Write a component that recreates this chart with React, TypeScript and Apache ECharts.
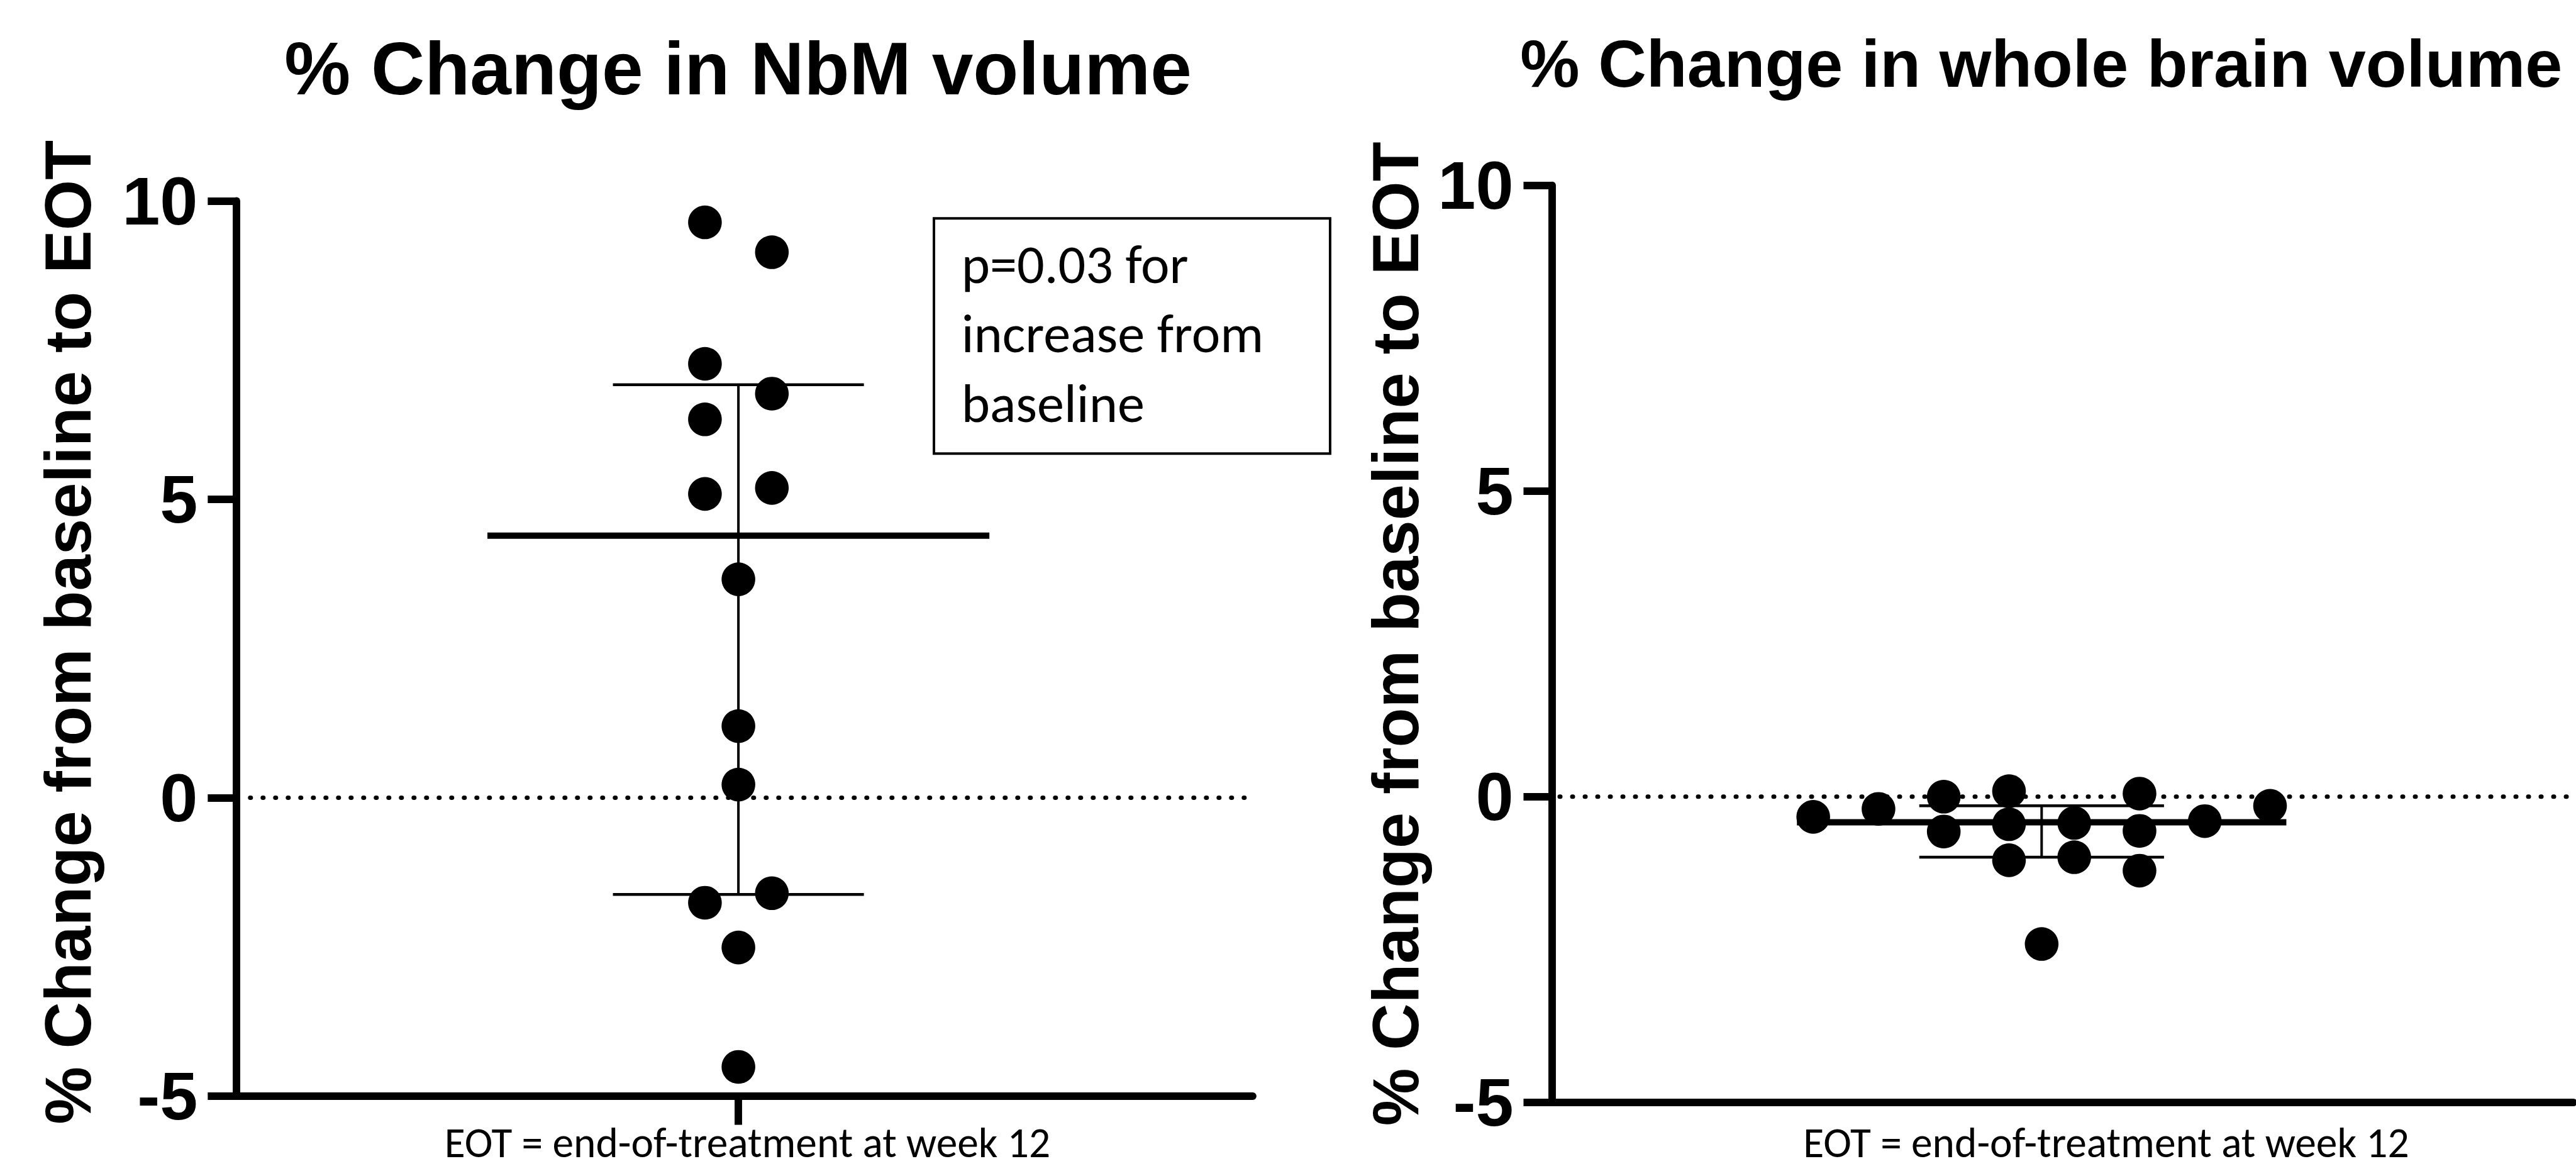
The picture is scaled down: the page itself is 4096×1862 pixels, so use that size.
import React, { useEffect, useRef } from 'react';
import * as echarts from 'echarts';

// ---------- data ----------
const panelTitles = ['% Change in NbM volume', '% Change in whole brain volume'];
const yAxisName = '% Change from baseline to EOT';
const xNote = 'EOT = end-of-treatment at week 12';
const pNoteLines = ['p=0.03 for', 'increase from', 'baseline'];
const yTickValues = [-5, 0, 5, 10];

// NbM volume: values and their swarm column offsets
const nbmValues = [9.64, 9.14, 7.27, 6.77, 6.34, 5.09, 5.19, 3.66, 1.2, 0.22, -1.76, -1.6, -2.51, -4.51];
const nbmColumns = [-1, 1, -1, 1, -1, -1, 1, 0, 0, 0, -1, 1, 0, 0];

// Whole brain volume: values and their swarm column offsets
const wbValues = [-0.33, -0.2, 0.0, -0.57, 0.09, -0.45, -1.04, -2.41, -0.43, -0.99, 0.05, -0.56, -1.21, -0.4, -0.15];
const wbColumns = [-7, -5, -3, -3, -1, -1, -1, 0, 1, 1, 3, 3, 3, 5, 7];

// summary lines: median with interquartile range
const medians = [4.39, -0.42];
const lowerQuartiles = [-1.62, -0.99];
const upperQuartiles = [6.92, -0.15];

// ---------- layout ----------
const S = 0.992;
const W = 4096;
const H = 1862;
const FONT_BOLD = '"Liberation Sans", Arial, Helvetica, sans-serif';
const FONT_NOTE = 'Carlito, Lato, "Open Sans", sans-serif';

const grids = [
  { left: 379 * S, top: 322 * S, width: 1629 * S, height: 1435 * S },
  { left: 2488 * S, top: 297 * S, width: 1637 * S, height: 1470 * S },
];
const xRanges = [
  [-15, 15.37],
  [-15, 16.3],
];
const zeroStart = [-14.59, -14.77];

function panelSeries(i: number, values: number[], cols: number[]) {
  const base = { xAxisIndex: i, yAxisIndex: i, silent: true, animation: false };
  const black = '#000';
  const lineSeries = (data: number[][], width: number, z: number, extra: any = {}) => ({
    ...base,
    type: 'line',
    data,
    symbol: 'none',
    z,
    lineStyle: { color: black, width, opacity: 1, ...extra },
  });
  return [
    lineSeries([[zeroStart[i], 0], [xRanges[i][1], 0]], 7, 1, { type: [1, 19], cap: 'round' }),
    lineSeries([[-7.5, medians[i]], [7.5, medians[i]]], 10, 2),
    lineSeries([[-3.75, upperQuartiles[i]], [3.75, upperQuartiles[i]]], 4.5, 2),
    lineSeries([[-3.75, lowerQuartiles[i]], [3.75, lowerQuartiles[i]]], 4.5, 2),
    lineSeries([[0, lowerQuartiles[i]], [0, upperQuartiles[i]]], 4, 2),
    {
      ...base,
      type: 'scatter',
      z: 3,
      symbol: 'circle',
      symbolSize: 54 * S,
      itemStyle: { color: black, opacity: 1 },
      data: values.map((v, k) => [cols[k], v]),
    },
  ];
}

function buildOption() {
  const axisLineStyle = { color: '#000', width: 12 * S };
  const xAxes = [0, 1].map((i) => ({
    type: 'value',
    gridIndex: i,
    min: xRanges[i][0],
    max: xRanges[i][1],
    axisLine: { show: true, onZero: false, lineStyle: axisLineStyle },
    axisTick: i === 0
      ? { show: true, customValues: [0], length: 46 * S, lineStyle: { color: '#000', width: 12 * S } }
      : { show: false },
    axisLabel: { show: false },
    splitLine: { show: false },
  }));
  const yAxes = [0, 1].map((i) => ({
    type: 'value',
    gridIndex: i,
    min: yTickValues[0],
    max: yTickValues[yTickValues.length - 1],
    interval: 5,
    axisLine: { show: true, onZero: false, lineStyle: axisLineStyle },
    axisTick: { show: true, length: 46 * S, lineStyle: { color: '#000', width: 12 * S } },
    axisLabel: {
      show: true,
      color: '#000',
      fontSize: 109 * S,
      fontWeight: 'bold',
      fontFamily: FONT_BOLD,
      margin: 62 * S,
    },
    splitLine: { show: false },
  }));

  const text = (t: string, x: number, y: number, fs: number, opts: any = {}) => ({
    type: 'text',
    x,
    y,
    silent: true,
    rotation: opts.rotation || 0,
    style: {
      text: t,
      fill: '#000',
      fontSize: fs,
      fontWeight: opts.weight || 'bold',
      fontFamily: opts.family || FONT_BOLD,
      textAlign: opts.align || 'center',
      textVerticalAlign: 'middle',
    },
  });

  const graphic: any[] = [
    text(panelTitles[0], 1183 * S, 110 * S, 119 * S),
    text(panelTitles[1], 3272 * S, 102 * S, 107 * S),
    text(yAxisName, 109 * S, 1013.5 * S, 104 * S, { rotation: Math.PI / 2 }),
    text(yAxisName, 2237 * S, 1016 * S, 104 * S, { rotation: Math.PI / 2 }),
    text(xNote, 1198 * S, 1832 * S, 68 * S, { weight: 'normal', family: FONT_NOTE }),
    text(xNote, 3376 * S, 1832 * S, 68 * S, { weight: 'normal', family: FONT_NOTE }),
    {
      type: 'rect',
      silent: true,
      shape: { x: 1497 * S, y: 350 * S, width: 635 * S, height: 377 * S },
      style: { fill: 'rgba(0,0,0,0)', stroke: '#000', lineWidth: 4 * S },
    },
    ...pNoteLines.map((t, k) =>
      text(t, 1541 * S, (423.7 + k * 111.5) * S, 87 * S, { weight: 'normal', family: FONT_NOTE, align: 'left' })
    ),
  ];

  return {
    animation: false,
    backgroundColor: '#fff',
    grid: grids.map((g) => ({ ...g, containLabel: false })),
    xAxis: xAxes,
    yAxis: yAxes,
    series: [...panelSeries(0, nbmValues, nbmColumns), ...panelSeries(1, wbValues, wbColumns)],
    graphic,
  };
}

export default function App() {
  const ref = useRef<HTMLDivElement>(null);
  useEffect(() => {
    document.body.style.margin = '0';
    document.body.style.overflow = 'hidden';
    const chart = echarts.init(ref.current as HTMLDivElement, null, { renderer: 'svg', width: W, height: H });
    chart.setOption(buildOption() as any);
    return () => chart.dispose();
  }, []);
  return (
    <div
      ref={ref}
      style={{ position: 'absolute', left: 0, top: 0, width: W, height: H, background: '#fff' }}
    />
  );
}
